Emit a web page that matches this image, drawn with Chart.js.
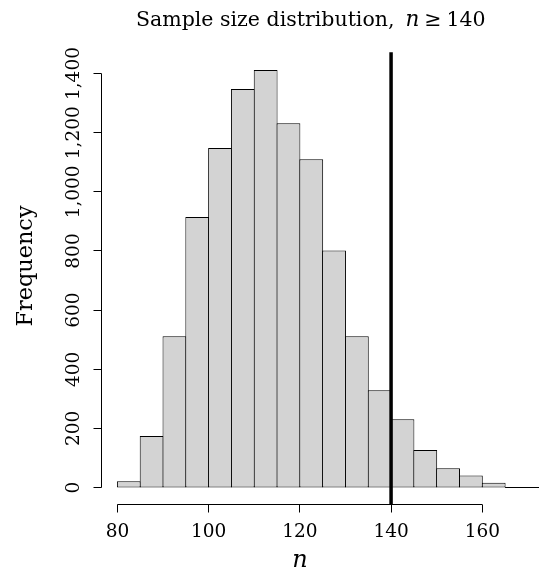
<!DOCTYPE html>
<html><head><meta charset="utf-8">
<script src="https://cdn.jsdelivr.net/npm/chart.js@4"></script>
<style>html,body{margin:0;padding:0;background:#fff}</style>
</head><body>
<canvas id="c" width="539" height="571"></canvas>
<script>
// ---- data ----
const BIN_STARTS = [80, 85, 90, 95, 100, 105, 110, 115, 120, 125, 130, 135, 140, 145, 150, 155, 160];
const BIN_WIDTH = 5;
const COUNTS = [21, 174, 512, 915, 1148, 1348, 1412, 1232, 1110, 802, 512, 329, 231, 127, 65, 41, 16];
const X_TICKS = [80, 100, 120, 140, 160];
const Y_TICKS = [0, 200, 400, 600, 800, 1000, 1200, 1400];
const Y_TICK_LABELS = ['0', '200', '400', '600', '800', '1,000', '1,200', '1,400'];
const THRESHOLD = 140;
const TITLE_TEXT = 'Sample size distribution,';
const TITLE_VAR = 'n';
const TITLE_REL = '\u2265';
const X_LABEL = 'n';
const Y_LABEL = 'Frequency';

const SERIF = '"DejaVu Serif"';

const rAxes = {
  id: 'rAxes',
  afterDraw(chart) {
    const ctx = chart.ctx, xs = chart.scales.x, ys = chart.scales.y, ca = chart.chartArea;
    const snap = v => Math.round(v - 0.5) + 0.5;
    ctx.save();
    ctx.strokeStyle = '#000';
    ctx.lineWidth = 1;
    // baseline extension at y = 0
    const y0 = snap(ys.getPixelForValue(0));
    ctx.beginPath();
    ctx.moveTo(xs.getPixelForValue(BIN_STARTS[BIN_STARTS.length - 1] + BIN_WIDTH), y0);
    ctx.lineTo(chart.width, y0);
    ctx.stroke();
    // x axis
    const xb = snap(ca.bottom);
    ctx.beginPath();
    ctx.moveTo(xs.getPixelForValue(X_TICKS[0]), xb);
    ctx.lineTo(xs.getPixelForValue(X_TICKS[X_TICKS.length - 1]), xb);
    X_TICKS.forEach(v => { const p = snap(xs.getPixelForValue(v)); ctx.moveTo(p, xb); ctx.lineTo(p, xb + 8); });
    ctx.stroke();
    // y axis
    const yl = snap(ca.left);
    ctx.beginPath();
    ctx.moveTo(yl, ys.getPixelForValue(Y_TICKS[0]));
    ctx.lineTo(yl, ys.getPixelForValue(Y_TICKS[Y_TICKS.length - 1]));
    Y_TICKS.forEach(v => { const p = snap(ys.getPixelForValue(v)); ctx.moveTo(yl, p); ctx.lineTo(yl - 8, p); });
    ctx.stroke();
    // threshold line
    const xt = xs.getPixelForValue(THRESHOLD);
    ctx.lineWidth = 3.5;
    ctx.beginPath();
    ctx.moveTo(xt, ca.top);
    ctx.lineTo(xt, ca.bottom);
    ctx.stroke();
    // title
    ctx.fillStyle = '#000';
    ctx.textBaseline = 'alphabetic';
    ctx.textAlign = 'left';
    const fMain = '20.5px ' + SERIF, fIt = 'italic 21.5px ' + SERIF;
    ctx.font = fMain; const w1 = ctx.measureText(TITLE_TEXT).width;
    const wr = ctx.measureText(TITLE_REL).width;
    const thr = String(THRESHOLD); const w3 = ctx.measureText(thr).width;
    ctx.font = fIt; const wn = ctx.measureText(TITLE_VAR).width;
    const g1 = 11, g2 = 5, g3 = 5;
    const total = w1 + g1 + wn + g2 + wr + g3 + w3;
    let tx = (ca.left + ca.right) / 2 - total / 2;
    const ty = 26;
    ctx.font = fMain; ctx.fillText(TITLE_TEXT, tx, ty); tx += w1 + g1;
    ctx.font = fIt; ctx.fillText(TITLE_VAR, tx, ty); tx += wn + g2;
    ctx.font = fMain; ctx.fillText(TITLE_REL, tx, ty); tx += wr + g3;
    ctx.fillText(thr, tx, ty);
    // x label
    ctx.font = 'italic 24px ' + SERIF;
    ctx.textAlign = 'center';
    ctx.fillText(X_LABEL, xs.getPixelForValue((X_TICKS[0] + X_TICKS[X_TICKS.length - 1]) / 2), 567);
    // y label
    ctx.font = '22.4px ' + SERIF;
    ctx.translate(31.5, 266);
    ctx.rotate(-Math.PI / 2);
    ctx.fillText(Y_LABEL, 0, 0);
    ctx.restore();
  }
};

new Chart(document.getElementById('c'), {
  type: 'bar',
  data: {
    datasets: [{
      data: BIN_STARTS.map((s, i) => ({ x: s + BIN_WIDTH / 2, y: COUNTS[i] })),
      backgroundColor: '#d3d3d3',
      borderColor: '#000',
      borderWidth: 1,
      borderSkipped: false,
      barPercentage: 1.044,
      categoryPercentage: 1
    }]
  },
  options: {
    responsive: false,
    animation: false,
    devicePixelRatio: 1,
    layout: { padding: { left: 0, right: 18.4, top: 52.3, bottom: 0 } },
    plugins: { legend: { display: false }, tooltip: { enabled: false }, title: { display: false } },
    scales: {
      x: {
        type: 'linear', offset: false, min: 76.4, max: 168.4,
        grid: { display: false, drawTicks: false }, border: { display: false },
        afterBuildTicks: s => { s.ticks = X_TICKS.map(v => ({ value: v })); },
        ticks: { font: { family: SERIF, size: 18.5 }, color: '#000', padding: 16.5, maxRotation: 0, autoSkip: false },
        afterFit: s => { s.height = 66.7; }
      },
      y: {
        type: 'linear', min: -56.6, max: 1471.9,
        grid: { display: false, drawTicks: false }, border: { display: false },
        afterBuildTicks: s => { s.ticks = Y_TICKS.map(v => ({ value: v })); },
        ticks: {
          font: { family: SERIF, size: 18.5 }, color: '#000', padding: 0, autoSkip: false,
          minRotation: 90, maxRotation: 90, crossAlign: 'center',
          callback: v => Y_TICK_LABELS[Y_TICKS.indexOf(v)]
        },
        afterFit: s => { s.width = 101; }
      }
    }
  },
  plugins: [rAxes]
});
</script>
</body></html>
